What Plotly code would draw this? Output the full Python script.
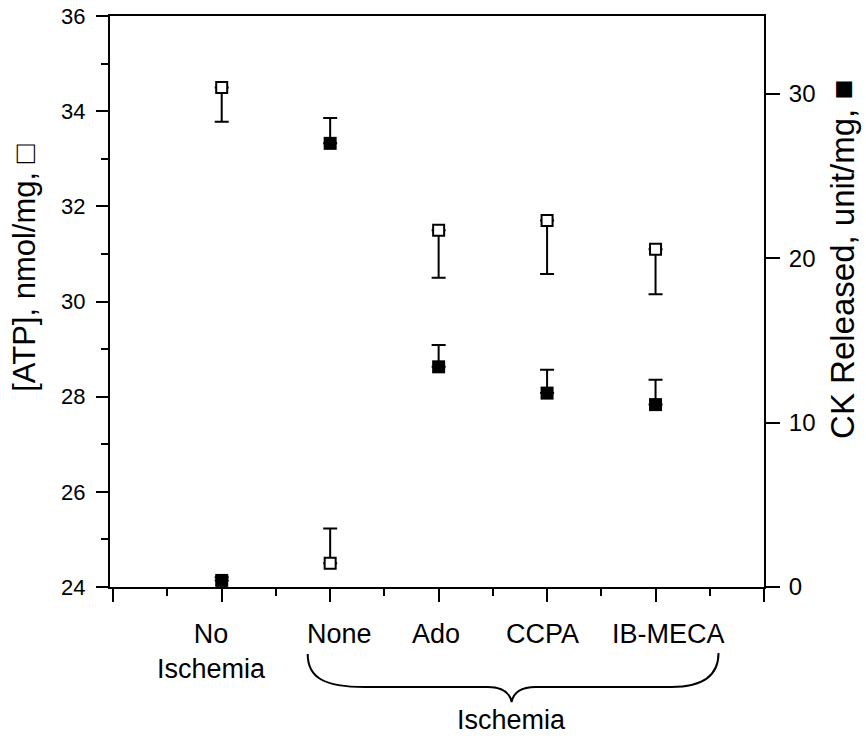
import plotly.graph_objects as go

# ---- data ----
categories = ["No<br>Ischemia", "None", "Ado", "CCPA", "IB-MECA"]
atp = [34.5, 24.5, 31.5, 31.7, 31.1]          # [ATP], nmol/mg (open squares)
atp_err = [0.72, 0.73, 1.0, 1.12, 0.95]
atp_err_dir = ["down", "up", "down", "down", "down"]
ck = [0.4, 27.0, 13.4, 11.8, 11.1]            # CK released, unit/mg (filled squares)
ck_err = [0.2, 1.55, 1.33, 1.42, 1.52]
group_label = "Ischemia"
left_ticks = [24, 26, 28, 30, 32, 34, 36]
right_ticks = [0, 10, 20, 30]

# style: horizontal nudges of the category labels (px)
label_shift = [-10, 9, -3, -5, 13]

xpos = [i + 1 for i in range(len(categories))]
atp_plus = [e if d == "up" else 0 for e, d in zip(atp_err, atp_err_dir)]
atp_minus = [e if d == "down" else 0 for e, d in zip(atp_err, atp_err_dir)]

FONT = "Liberation Sans, Arial, Helvetica, sans-serif"

fig = go.Figure()
fig.add_trace(go.Scatter(
    x=xpos, y=ck, mode="markers", yaxis="y2", showlegend=False,
    marker=dict(symbol="square", size=13, color="black", line=dict(width=0)),
    error_y=dict(type="data", symmetric=False, array=ck_err,
                 arrayminus=[0] * len(ck_err), color="black",
                 thickness=2, width=7),
))
fig.add_trace(go.Scatter(
    x=xpos, y=atp, mode="markers", showlegend=False,
    marker=dict(symbol="square", size=11, color="white",
                line=dict(color="black", width=2)),
    error_y=dict(type="data", symmetric=False, array=atp_plus,
                 arrayminus=atp_minus, color="black", thickness=2, width=7),
))

# category labels
for x, lab, sh in zip(xpos, categories, label_shift):
    fig.add_annotation(x=x, y=-0.052, xref="x", yref="paper", text=lab,
                       showarrow=False, yanchor="top", xanchor="center",
                       xshift=sh,
                       font=dict(family=FONT, size=27, color="black"))

# brace under the ischemia groups (pixel helpers -> axis/paper coords)
def bx(px):
    return (px - 113.5) / 108.5
def py(p):
    return (587 - p) / 571

path = (f"M {bx(308)},{py(654)} "
        f"C {bx(308)},{py(678)} {bx(325)},{py(687)} {bx(365)},{py(687)} "
        f"L {bx(488)},{py(687)} "
        f"C {bx(502)},{py(687)} {bx(510)},{py(692)} {bx(512)},{py(702)} "
        f"C {bx(514)},{py(692)} {bx(522)},{py(687)} {bx(536)},{py(687)} "
        f"L {bx(672)},{py(687)} "
        f"C {bx(705)},{py(687)} {bx(719)},{py(675)} {bx(719)},{py(653)}")
fig.add_shape(type="path", path=path, xref="x", yref="paper",
              line=dict(color="black", width=2))
fig.add_annotation(x=bx(512), y=py(736), xref="x", yref="paper",
                   text=group_label, showarrow=False, yanchor="bottom",
                   xanchor="center", borderpad=0,
                   font=dict(family=FONT, size=27, color="black"))

# axis titles
fig.add_annotation(x=-0.130, y=0.559, xref="paper", yref="paper",
                   text="[ATP], nmol/mg, \u25a1", textangle=-90, showarrow=False,
                   xanchor="center", yanchor="middle",
                   font=dict(family=FONT, size=31, color="black"))
fig.add_annotation(x=1.121, y=0.573, xref="paper", yref="paper",
                   text="CK Released, unit/mg, \u25a0", textangle=-90, showarrow=False,
                   xanchor="center", yanchor="middle",
                   font=dict(family=FONT, size=33, color="black"))

fig.update_layout(
    width=866, height=736,
    margin=dict(l=110, r=102, t=16, b=149, autoexpand=False),
    paper_bgcolor="white", plot_bgcolor="white",
    font=dict(family=FONT, size=22, color="black"),
    xaxis=dict(range=[-0.03, 6.0], showgrid=False, zeroline=False,
               automargin=False,
               showline=True, linecolor="black", linewidth=2, mirror=True,
               tickvals=list(range(0, 7)), ticktext=[""] * 7,
               ticks="outside", ticklen=13, tickwidth=2, tickcolor="black",
               minor=dict(dtick=0.5, tick0=0, ticks="outside", ticklen=7,
                          tickwidth=2, tickcolor="black", showgrid=False)),
    yaxis=dict(range=[24, 36], showgrid=False, zeroline=False,
               automargin=False,
               showline=True, linecolor="black", linewidth=2,
               tickvals=left_ticks, ticks="outside", ticklen=12, tickwidth=2,
               tickcolor="black", ticklabelstandoff=6,
               tickfont=dict(family=FONT, size=22, color="black"),
               minor=dict(dtick=1, tick0=24, ticks="outside", ticklen=7,
                          tickwidth=2, tickcolor="black", showgrid=False)),
    yaxis2=dict(range=[0, 34.75], overlaying="y", side="right",
                automargin=False,
                showgrid=False, zeroline=False, showline=True,
                linecolor="black", linewidth=2, tickvals=right_ticks,
                ticks="outside", ticklen=14, tickwidth=2, tickcolor="black",
                ticklabelstandoff=4,
                tickfont=dict(family=FONT, size=24, color="black")),
)

fig.write_html("out.html",
               config={"displayModeBar": False},
               post_script="document.body.style.margin='0';")
